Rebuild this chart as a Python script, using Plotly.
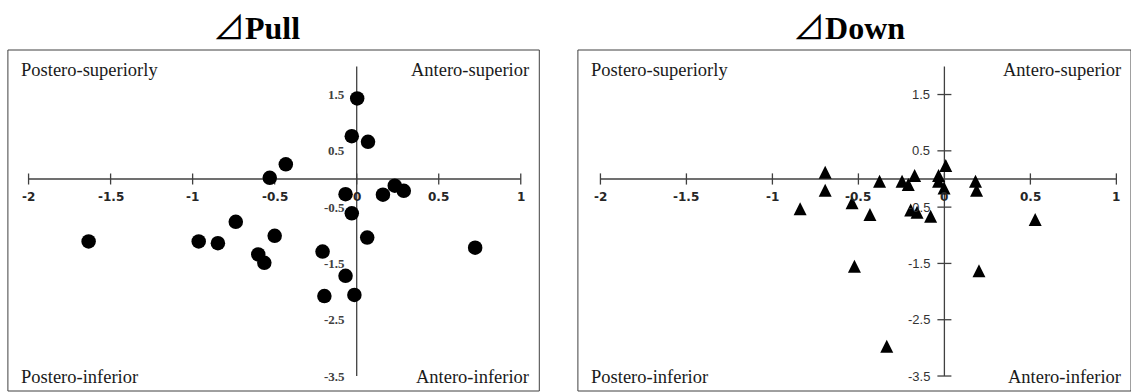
import plotly.graph_objects as go

# ---------------- data ----------------
X_TICKS = [-2, -1.5, -1, -0.5, 0, 0.5, 1]
Y_TICKS = [-3.5, -2.5, -1.5, -0.5, 0.5, 1.5]
Y_AXIS_MIN = -3.5
Y_AXIS_MAX = 2.0

PULL_X = [0.003, -0.03, 0.069, -0.432, -0.53, 0.232, 0.287, 0.16, -0.068, -0.03,
          -0.737, 0.064, -0.50, -1.634, -0.963, -0.846, 0.722, -0.208, -0.60, -0.563,
          -0.068, -0.197, -0.014]
PULL_Y = [1.43, 0.76, 0.66, 0.26, 0.02, -0.12, -0.21, -0.28, -0.27, -0.61,
          -0.76, -1.04, -1.01, -1.11, -1.11, -1.14, -1.22, -1.29, -1.34, -1.49,
          -1.72, -2.08, -2.06]

DOWN_X = [-0.693, -0.693, -0.839, -0.537, -0.433, -0.377, -0.246, -0.21, -0.173, -0.196,
          -0.159, -0.08, -0.034, -0.034, 0.008, -0.002, 0.181, 0.187, 0.528, -0.523,
          0.201, -0.335]
DOWN_Y = [0.12, -0.20, -0.53, -0.42, -0.63, -0.04, -0.04, -0.10, 0.06, -0.55,
          -0.59, -0.66, 0.06, -0.04, 0.24, -0.16, -0.04, -0.20, -0.72, -1.55,
          -1.63, -2.97]

TITLES = ["Pull", "Down"]
Q_TOP_LEFT = "Postero-superiorly"
Q_TOP_RIGHT = "Antero-superior"
Q_BOTTOM_LEFT = "Postero-inferior"
Q_BOTTOM_RIGHT = "Antero-inferior"

# ---------------- layout geometry ----------------
W, H = 1131, 392
AX = "#404040"

fig = go.Figure()

panels = [
    dict(xa="x", ya="y", dom=[7.9 / W, 539.3 / W], xr=[-2.126, 1.113], yticks=False,
         xs=PULL_X, ys=PULL_Y, title_x=256.5 / W),
    dict(xa="x2", ya="y2", dom=[577.9 / W, 1.0], xr=[-2.131, 1.085], yticks=True,
         xs=DOWN_X, ys=DOWN_Y, title_x=849 / W),
]

annotations = []
shapes = []
for i, p in enumerate(panels):
    xa, ya = p["xa"], p["ya"]
    # axis lines
    fig.add_trace(go.Scatter(x=[min(X_TICKS), max(X_TICKS)], y=[0, 0], xaxis=xa, yaxis=ya,
                             mode="lines", line=dict(color=AX, width=1.3),
                             hoverinfo="skip", showlegend=False))
    fig.add_trace(go.Scatter(x=[0, 0], y=[Y_AXIS_MIN, Y_AXIS_MAX], xaxis=xa, yaxis=ya,
                             mode="lines", line=dict(color=AX, width=1.3),
                             hoverinfo="skip", showlegend=False))
    # x tick marks (cross)
    fig.add_trace(go.Scatter(x=X_TICKS, y=[0] * len(X_TICKS), xaxis=xa, yaxis=ya,
                             mode="markers",
                             marker=dict(symbol="line-ns", size=8,
                                         line=dict(color=AX, width=1.3)),
                             hoverinfo="skip", showlegend=False))
    if p["yticks"]:
        fig.add_trace(go.Scatter(x=[0] * len(Y_TICKS), y=Y_TICKS, xaxis=xa, yaxis=ya,
                                 mode="markers",
                                 marker=dict(symbol="line-ew", size=10,
                                             line=dict(color=AX, width=1.3)),
                                 hoverinfo="skip", showlegend=False))
    # data
    if i == 0:
        fig.add_trace(go.Scatter(x=p["xs"], y=p["ys"], xaxis=xa, yaxis=ya, mode="markers",
                                 marker=dict(symbol="circle", size=14.5, color="black",
                                             line=dict(width=0)),
                                 name="Pull", showlegend=False))
    else:
        fig.add_trace(go.Scatter(x=p["xs"], y=p["ys"], xaxis=xa, yaxis=ya, mode="markers",
                                 marker=dict(symbol="arrow-down", angle=180, standoff=6.5,
                                             size=13, color="black",
                                             line=dict(width=0)),
                                 name="Down", showlegend=False))

    # tick labels
    for t in X_TICKS:
        annotations.append(dict(x=t, y=0, xref=xa, yref=ya, text=f"<b>{t:g}</b>",
                                showarrow=False, yanchor="middle", yshift=-18,
                                font=dict(family="DejaVu Sans", size=12, color="#262626")))
    for t in Y_TICKS:
        if p["yticks"]:
            annotations.append(dict(x=0, y=t, xref=xa, yref=ya, text=f"{t:g}",
                                    showarrow=False, xanchor="right", xshift=-12.5,
                                    yanchor="middle",
                                    font=dict(family="Liberation Sans", size=13, color="#333333")))
        else:
            annotations.append(dict(x=0, y=t, xref=xa, yref=ya, text=f"<b>{t:g}</b>",
                                    showarrow=False, xanchor="right", xshift=-10,
                                    yanchor="middle",
                                    font=dict(family="Liberation Serif", size=13, color="#404040")))

    # quadrant labels
    qf = dict(family="Liberation Serif", size=18.5, color="#1a1a1a")
    xd, yd = f"{xa} domain", "paper"
    annotations += [
        dict(x=0, y=1 - 69.5 / H, xref=xd, yref=yd, text=Q_TOP_LEFT, showarrow=False,
             xanchor="left", xshift=11, yanchor="middle", font=qf),
        dict(x=1, y=1 - 69.5 / H, xref=xd, yref=yd, text=Q_TOP_RIGHT, showarrow=False,
             xanchor="right", xshift=-8.5, yanchor="middle", font=qf),
        dict(x=0, y=1 - 376.5 / H, xref=xd, yref=yd, text=Q_BOTTOM_LEFT, showarrow=False,
             xanchor="left", xshift=11, yanchor="middle", font=qf),
        dict(x=1, y=1 - 376.5 / H, xref=xd, yref=yd, text=Q_BOTTOM_RIGHT, showarrow=False,
             xanchor="right", xshift=-8.5, yanchor="middle", font=qf),
    ]
    # title
    annotations.append(dict(x=p["title_x"], y=1 - 27.5 / H, xref="paper", yref="paper",
                            text="⊿<b>" + TITLES[i] + "</b>", showarrow=False,
                            xanchor="center", yanchor="middle",
                            font=dict(family="Liberation Serif, Noto Sans CJK JP",
                                      size=32, color="black")))
    # frame
    shapes.append(dict(type="rect", xref=f"{xa} domain", yref=f"{ya} domain",
                       x0=0, x1=1, y0=0, y1=1, line=dict(color=AX, width=1),
                       fillcolor="rgba(0,0,0,0)", layer="below"))

axis_common = dict(visible=False, showgrid=False, zeroline=False, fixedrange=True)
fig.update_layout(
    width=W, height=H,
    margin=dict(l=0, r=0, t=0, b=0),
    paper_bgcolor="white", plot_bgcolor="white",
    showlegend=False,
    xaxis=dict(domain=panels[0]["dom"], range=panels[0]["xr"], anchor="y", **axis_common),
    yaxis=dict(domain=[1 / H, 1 - 50 / H], range=[-3.766, 2.291], anchor="x", **axis_common),
    xaxis2=dict(domain=panels[1]["dom"], range=panels[1]["xr"], anchor="y2", **axis_common),
    yaxis2=dict(domain=[1 / H, 1 - 50 / H], range=[-3.766, 2.291], anchor="x2", **axis_common),
    annotations=annotations,
    shapes=shapes,
)

fig.write_html("out.html", config={"displayModeBar": False},
               post_script="document.body.style.margin='0';document.body.style.overflow='hidden';")
